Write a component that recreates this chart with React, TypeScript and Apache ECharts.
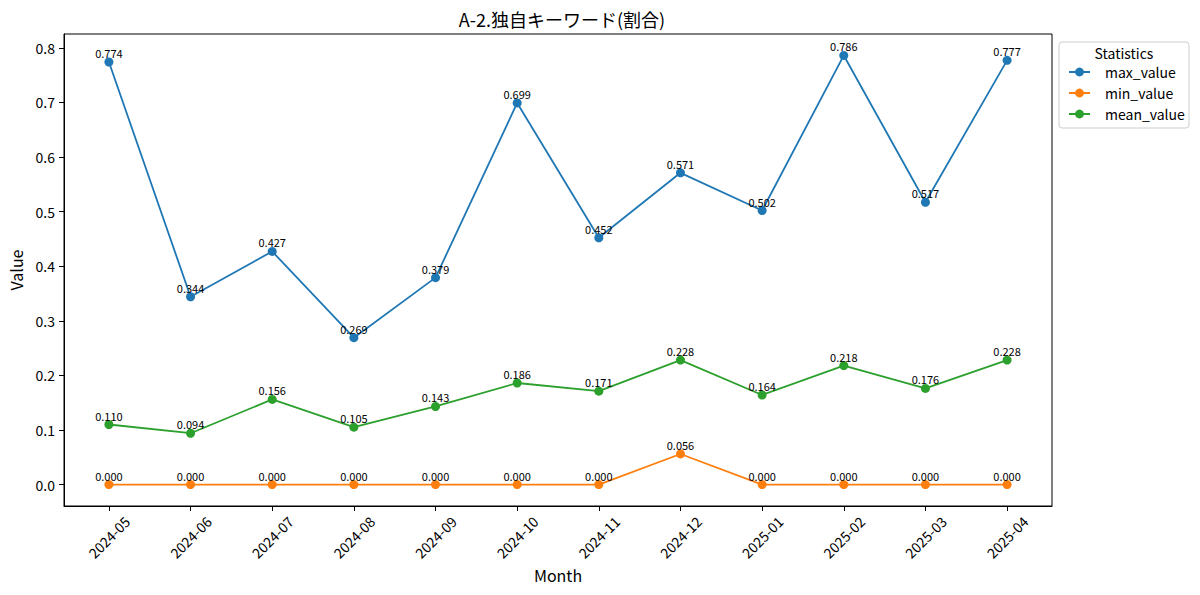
import React, { useEffect, useRef } from "react";
import * as echarts from "echarts";

const months = ["2024-05","2024-06","2024-07","2024-08","2024-09","2024-10","2024-11","2024-12","2025-01","2025-02","2025-03","2025-04"];
const maxValues = [0.774,0.344,0.427,0.269,0.379,0.699,0.452,0.571,0.502,0.786,0.517,0.777];
const minValues = [0,0,0,0,0,0,0,0.056,0,0,0,0];
const meanValues = [0.110,0.094,0.156,0.105,0.143,0.186,0.171,0.228,0.164,0.218,0.176,0.228];
const yTicks = [0,0.1,0.2,0.3,0.4,0.5,0.6,0.7,0.8];

const FONT = "'Noto Sans CJK JP', 'Noto Sans', sans-serif";

export default function App() {
  const ref = useRef<HTMLDivElement>(null);
  useEffect(() => {
    document.body.style.margin = "0";
    const chart = echarts.init(ref.current!, null, { renderer: "svg" });
    const mk = (name: string, vals: number[], color: string) => ({
      name,
      type: "line",
      data: vals.map((v, i) => [i, v]),
      symbol: "circle",
      symbolSize: 9,
      color,
      lineStyle: { width: 1.8, color },
      itemStyle: { color },
      label: {
        show: true,
        position: "top",
        distance: -1,
        fontSize: 11,
        fontFamily: FONT,
        color: "#000",
        formatter: (p: any) => Number(p.value[1]).toFixed(3),
      },
      z: 3,
    });
    chart.setOption({
      animation: false,
      textStyle: { fontFamily: FONT },
      title: {
        text: "A-2.独自キーワード(割合)",
        left: 557,
        textAlign: "center",
        top: 5,
        textStyle: { fontSize: 18, fontWeight: "normal", color: "#000", fontFamily: FONT },
      },
      grid: { left: 62, right: 148, top: 34, bottom: 89, show: true, borderColor: "#000", borderWidth: 1, backgroundColor: "transparent" },
      xAxis: {
        type: "value",
        min: -0.55,
        max: 11.55,
        name: "Month",
        nameLocation: "middle",
        nameGap: 60,
        nameTextStyle: { fontSize: 16, color: "#000", fontFamily: FONT },
        axisLine: { show: true, onZero: false, lineStyle: { color: "#000", width: 1 } },
        axisTick: { show: true, length: 5, lineStyle: { color: "#000" }, customValues: months.map((_, i) => i) },
        axisLabel: {
          customValues: months.map((_, i) => i),
          formatter: (v: number) => months[Math.round(v)] ?? "",
          rotate: 45,
          align: "center",
          verticalAlign: "middle",
          margin: 31,
          fontSize: 14,
          color: "#000",
          fontFamily: FONT,
        },
        splitLine: { show: false },
      },
      yAxis: {
        type: "value",
        min: -0.0393,
        max: 0.8253,
        name: "Value",
        nameLocation: "middle",
        nameGap: 40,
        nameTextStyle: { fontSize: 16, color: "#000", fontFamily: FONT },
        axisLine: { show: true, onZero: false, lineStyle: { color: "#000", width: 1 } },
        axisTick: { show: true, length: 5, lineStyle: { color: "#000" }, customValues: yTicks },
        axisLabel: {
          customValues: yTicks,
          formatter: (v: number) => v.toFixed(1),
          margin: 9,
          fontSize: 14,
          color: "#000",
          fontFamily: FONT,
        },
        splitLine: { show: false },
      },
      legend: {
        orient: "vertical",
        left: 1063,
        top: 60,
        itemWidth: 21,
        itemHeight: 11,
        itemGap: 7,
        data: ["max_value", "min_value", "mean_value"],
        textStyle: { fontSize: 14, color: "#000", fontFamily: FONT, padding: [0, 0, 0, 10] },
        z: 5,
      },
      graphic: [
        {
          type: "rect",
          z: 1,
          shape: { x: 1059, y: 42, width: 130, height: 86, r: 3 },
          style: { fill: "rgba(255,255,255,0.8)", stroke: "#cccccc", lineWidth: 1 },
        },
        {
          type: "text",
          z: 2,
          x: 1124,
          y: 53,
          style: { text: "Statistics", fontSize: 14, fill: "#000", fontFamily: FONT, textAlign: "center", textVerticalAlign: "middle" },
        },
      ],
      series: [
        mk("max_value", maxValues, "#1f77b4"),
        mk("min_value", minValues, "#ff7f0e"),
        mk("mean_value", meanValues, "#2ca02c"),
      ],
    });
    return () => chart.dispose();
  }, []);
  return <div ref={ref} style={{ width: 1200, height: 595, position: "absolute", left: 0, top: 0 }} />;
}
